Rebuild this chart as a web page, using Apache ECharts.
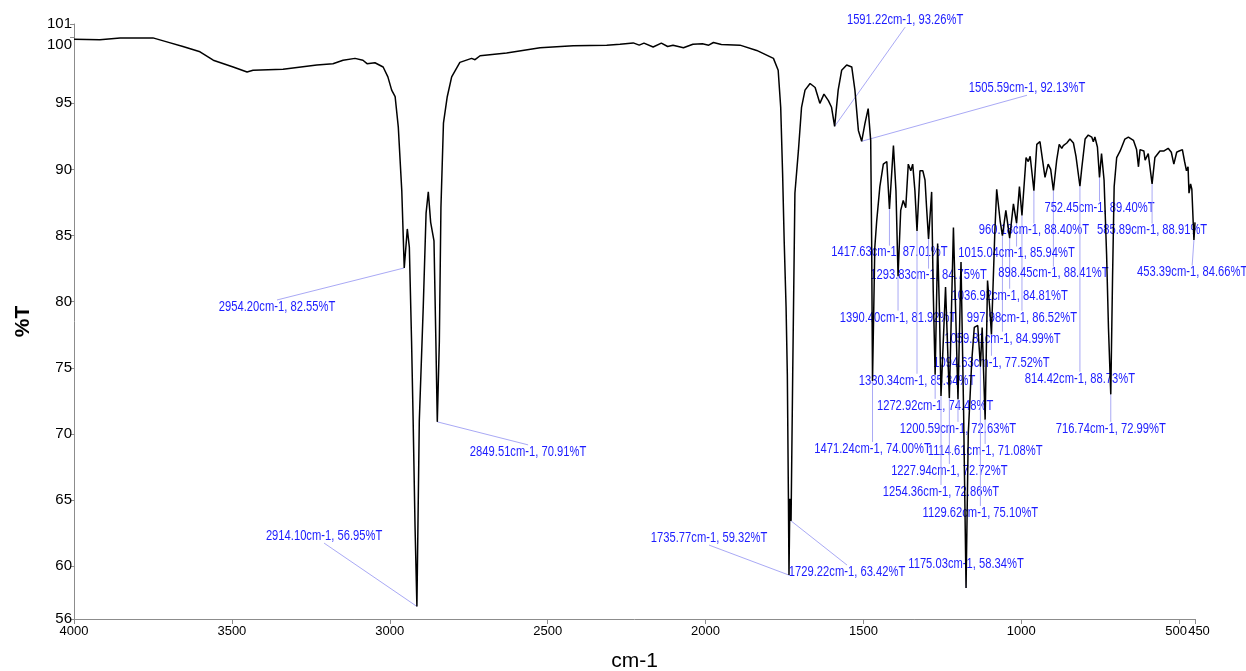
<!DOCTYPE html>
<html>
<head>
<meta charset="utf-8">
<script src="https://cdn.jsdelivr.net/npm/echarts@6/dist/echarts.min.js"></script>
<style>
html,body{margin:0;padding:0;background:#fff;}
#chart{width:1246px;height:671px;}
</style>
</head>
<body>
<div id="chart"></div>
<script>
// Spectrum (wavenumber cm-1, %T)
const wavenumbers = [4000,3997,3918,3854,3750,3706,3655,3601,3559,3496,3452,3433,3338,3231,3180,3148,3110,3085,3072,3047,3021,3006,2994,2983,2973,2962,2954.2,2944.5,2938,2931,2926,2920,2914.1,2906.5,2894,2885,2878,2870.5,2865.5,2860,2854,2849.51,2843,2838,2830,2818,2804,2778,2741,2730,2714,2630,2524,2419,2313,2271,2229,2210,2195,2166,2140,2120,2103,2070,2040,2010,1990,1975,1950,1891,1838,1785,1770,1762,1756,1751,1745,1741,1737.5,1735.77,1733,1729.22,1724,1717,1706,1696,1685,1669,1653,1638,1625,1611,1601,1591.22,1580,1569,1553,1537,1527,1516,1505.59,1495,1485,1477,1474,1471.24,1464,1458,1448,1437,1426,1417.63,1405,1397,1390.4,1382,1374,1366,1358,1350,1344,1337,1330.34,1321,1312,1305,1300,1293.83,1284,1279,1272.92,1265,1259,1254.36,1240,1227.94,1215,1200.59,1191,1183,1175.03,1168,1157,1149,1138,1129.62,1124,1114.61,1107,1100,1094.63,1084,1078,1067,1059.81,1049,1036.92,1025,1015.04,1006,997.98,985,978,972,960.18,951,941,936,925,915,907,898.45,888,880,872,867,856,846,835,827,814.42,809,798,788,777,772,767,759,752.45,746,738,730,724,716.74,711,706,698,687,672,661,645,635,629,624,612,608,598,585.89,577,561,548,535,525,517,508,500,490,483,477,472,469,464,460,453.39,450];
const transmittance = [99.85,99.83,99.8,99.95,99.95,99.65,99.3,98.9,98.26,97.75,97.37,97.5,97.58,97.9,98.0,98.26,98.4,98.26,98.0,98.07,97.75,97.0,96.0,95.5,93.2,88.4,82.55,85.5,84.1,77.0,71.0,63.0,56.95,71.0,79.6,86.7,88.3,86.0,86.1,84.6,77.0,70.91,77.0,87.1,93.5,95.5,97.0,98.1,98.4,98.3,98.6,98.8,99.2,99.35,99.4,99.47,99.57,99.4,99.55,99.26,99.55,99.3,99.4,99.2,99.47,99.5,99.4,99.6,99.45,99.4,99.0,98.4,97.5,94.7,89.7,84.6,79.6,74.5,65.0,59.32,65.1,63.42,74.5,88.2,91.4,94.7,96.0,96.5,96.2,95.0,95.7,95.2,94.7,93.26,96.0,97.5,97.9,97.75,96.0,92.95,92.13,93.5,94.6,92.2,84.6,74.0,84.1,86.1,88.7,90.4,90.6,87.01,91.8,88.4,81.92,86.9,87.65,87.1,90.4,89.9,90.4,88.4,85.34,89.9,89.9,89.2,87.1,84.75,88.3,80.8,74.48,84.4,79.0,72.86,81.1,72.72,85.6,72.63,83.0,72.0,58.34,70.0,75.5,78.05,78.2,75.1,78.05,71.08,81.6,79.5,77.52,85.2,88.5,86.1,84.99,86.9,84.81,87.4,85.94,88.7,86.52,90.9,90.6,91.0,88.4,91.9,92.1,92.0,89.4,90.4,90.0,88.41,90.7,91.9,91.6,91.8,92.0,92.3,92.0,91.0,88.73,90.0,92.3,92.6,92.45,92.1,92.45,91.7,89.4,91.2,89.2,83.6,78.0,72.99,82.0,88.7,90.9,91.4,92.3,92.45,92.2,91.5,90.2,91.5,91.4,90.7,91.2,88.91,90.9,91.4,91.4,91.6,91.3,90.4,91.3,91.4,91.5,90.6,89.9,90.2,88.2,88.9,88.5,84.66,86.0];

// Labelled peaks
const peakWn = [2954.20,2914.10,2849.51,1591.22,1505.59,1735.77,1729.22,1417.63,1293.83,1390.40,1330.34,1272.92,1471.24,1200.59,1114.61,1227.94,1254.36,1129.62,1175.03,1094.63,1059.81,997.98,1036.92,898.45,1015.04,960.18,752.45,585.89,453.39,814.42,716.74];
const peakT  = [82.55,56.95,70.91,93.26,92.13,59.32,63.42,87.01,84.75,81.92,85.34,74.48,74.00,72.63,71.08,72.72,72.86,75.10,58.34,77.52,84.99,86.52,84.81,88.41,85.94,88.40,89.40,88.91,84.66,88.73,72.99];
// where each peak label sits (axis units)
const labelWn = [3357,3208,2562,1368,982,1989,1552,1417.63,1293.83,1390.40,1330.34,1272.92,1471.24,1200.59,1114.61,1227.94,1254.36,1129.62,1175.03,1094.63,1059.81,997.98,1036.92,898.45,1015.04,960.18,752.45,585.89,459,814.42,716.74];
const labelT  = [79.6,62.27,68.64,101.29,96.14,62.12,59.55,83.71,81.97,78.79,74.02,72.12,68.86,70.38,68.71,67.20,65.61,64.02,60.15,75.38,77.20,78.79,80.45,82.12,83.64,85.38,87.05,85.38,82.20,74.17,70.38];

// tick labels (close pairs 100/101 and 500/450 are put on separate axes so both show)
const yTicksMain = [56,60,65,70,75,80,85,90,95,101];
const yTicksExtra = [100];
const xTicksMain = [4000,3500,3000,2500,2000,1500,1000];
const xTicks500 = [500];
const xTicks450 = [450];

const FONT = '"Liberation Sans",Arial,sans-serif';
const AXIS_COLOR = '#8c8c8c';

const spectrum = wavenumbers.map((w, i) => [w, transmittance[i]]);
const annotations = peakWn.map((w, i) => [w, peakT[i], labelWn[i], labelT[i]]);

function xAxisCfg(ticks, main, pad) {
  return {
    type: 'value', min: 450, max: 4000, inverse: true, position: 'bottom', offset: 0,
    name: main ? 'cm-1' : '', nameLocation: 'middle', nameGap: 32,
    nameTextStyle: {fontFamily: FONT, fontSize: 21, color: '#000'},
    axisLine: {show: main, onZero: false, lineStyle: {color: AXIS_COLOR, width: 1}},
    axisTick: {show: true, length: 5, customValues: ticks, lineStyle: {color: AXIS_COLOR}},
    axisLabel: {customValues: ticks, formatter: v => String(v), padding: pad,
                fontFamily: FONT, fontSize: 13, color: '#000', margin: 6, hideOverlap: false},
    splitLine: {show: false}
  };
}
function yAxisCfg(ticks, main) {
  return {
    type: 'value', min: 56, max: 101, position: 'left', offset: 0,
    name: main ? '%T' : '', nameLocation: 'middle', nameGap: 40, nameRotate: 90,
    nameTextStyle: {fontFamily: FONT, fontSize: 21, fontWeight: 'bold', color: '#000'},
    axisLine: {show: main, onZero: false, lineStyle: {color: AXIS_COLOR, width: 1}},
    axisTick: {show: true, length: 4, customValues: ticks, lineStyle: {color: AXIS_COLOR}},
    axisLabel: {customValues: ticks, formatter: v => String(v),
                verticalAlign: main ? 'middle' : 'top',
                fontFamily: FONT, fontSize: 15, color: '#000', margin: 2, hideOverlap: false},
    splitLine: {show: false}
  };
}

const chart = echarts.init(document.getElementById('chart'), null, {renderer: 'canvas'});
chart.setOption({
  animation: false,
  backgroundColor: '#ffffff',
  grid: {left: 74, right: 51, top: 24, bottom: 52, containLabel: false, outerBoundsMode: 'none'},
  xAxis: [
    xAxisCfg(xTicksMain, true, 0),
    xAxisCfg(xTicks500, false, [0, 6, 0, 0]),
    xAxisCfg(xTicks450, false, [0, 0, 0, 8])
  ],
  yAxis: [yAxisCfg(yTicksMain, true), yAxisCfg(yTicksExtra, false)],
  series: [
    {
      type: 'custom',
      z: 1,
      clip: false,
      data: annotations,
      renderItem: function (params, api) {
        const i = params.dataIndex;
        const p = api.coord([api.value(0), api.value(1)]);
        const q = api.coord([api.value(2), api.value(3)]);
        const ey = q[1] < p[1] ? q[1] + 7 : q[1] - 7;
        const text = peakWn[i].toFixed(2) + 'cm-1, ' + peakT[i].toFixed(2) + '%T';
        return {
          type: 'group',
          children: [
            {type: 'line', shape: {x1: p[0], y1: p[1], x2: q[0], y2: ey},
             style: {stroke: '#a9a9f5', lineWidth: 1}},
            {type: 'text', x: q[0], y: q[1], scaleX: 0.8, scaleY: 1,
             style: {text: text, align: 'center', verticalAlign: 'middle',
                     fill: '#1c1cff', fontSize: 14, fontFamily: FONT}}
          ]
        };
      }
    },
    {
      type: 'line',
      z: 2,
      data: spectrum,
      showSymbol: false,
      symbol: 'none',
      smooth: false,
      lineStyle: {color: '#000', width: 1.5},
      silent: true
    }
  ]
});
</script>
</body>
</html>
